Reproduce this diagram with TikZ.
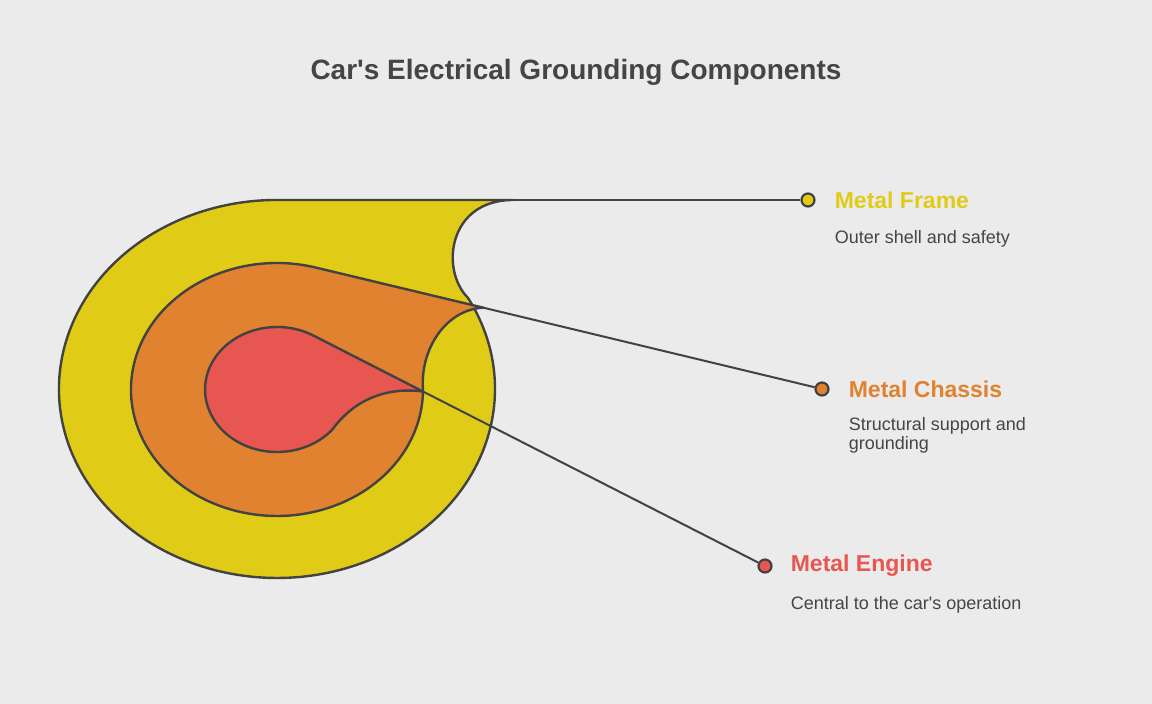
\documentclass[tikz,border=0pt]{standalone}
\usepackage{fontspec}
\setmainfont{Liberation Sans}
\usetikzlibrary{positioning}
\definecolor{bgGray}{HTML}{EBEBEB}
\definecolor{lineGray}{HTML}{424242}
\definecolor{textGray}{HTML}{454545}
\definecolor{frameYellow}{HTML}{E0CC17}
\definecolor{chassisOrange}{HTML}{E08230}
\definecolor{engineRed}{HTML}{E85652}
\tikzset{x = 1pt, y = 1pt,
         layer/.style = {draw = lineGray, line width = 2.4pt, line join = round},
         lead/.style = {draw = lineGray, line width = 2pt},
         pin/.style = {circle, draw = lineGray, line width = 2.2pt,
                       minimum size = 13pt, inner sep = 0pt},
         heading/.style = {font = \bfseries\fontsize{23}{26}\selectfont, inner sep = 0pt},
         blurb/.style = {font = \fontsize{18}{19}\selectfont, text = textGray,
                         align = left, anchor = west, inner sep = 0pt}}

\begin{document}
\begin{tikzpicture}
        \fill[bgGray] (0,0) rectangle (1152,-704);
        \node[font = \bfseries\fontsize{28}{32}\selectfont, text = textGray, anchor = base]
             (title) at (576,-79) {Car\textquotesingle s Electrical Grounding Components};

        % tips of the three tails
        \coordinate (frametip)   at (513,-200);
        \coordinate (chassistip) at (483,-307.6);
        \coordinate (enginetip)  at (423,-391.5);

        % nested layers, outer first
        \path[layer, fill = frameYellow] (277,-200) -- (frametip)
             .. controls (448,-200) and (440,-270) .. (468,-297.9)
             arc[start angle = 28.8, end angle = -270, x radius = 218, y radius = 189] -- cycle;
        \path[layer, fill = chassisOrange] (chassistip) -- (316,-267.6)
             arc[start angle = 74.5, end angle = 360, x radius = 146, y radius = 126.5]
             .. controls (420,-350) and (445,-310) .. (chassistip) -- cycle;
        \path[layer, fill = engineRed] (enginetip) -- (313.5,-335.6)
             arc[start angle = 59.6, end angle = 320, x radius = 72, y radius = 62.5]
             .. controls (350,-405) and (380,-386) .. (enginetip) -- cycle;

        % pins and labels
        \node[pin, fill = frameYellow]   (framedot)   at (808,-200) {};
        \node[pin, fill = chassisOrange] (chassisdot) at (822,-389) {};
        \node[pin, fill = engineRed]     (enginedot)  at (765,-566) {};

        \draw[lead] (framedot)   -- (frametip);
        \draw[lead] (chassisdot) -- (chassistip);
        \draw[lead] (enginedot)  -- (enginetip);

        \node[heading, text = frameYellow]   (frametitle)   [right = 19pt of framedot]   {Metal Frame};
        \node[heading, text = chassisOrange] (chassistitle) [right = 19pt of chassisdot] {Metal Chassis};
        \node[heading, text = engineRed]     (enginetitle)  [right = 18pt of enginedot]  {Metal Engine};

        \node[blurb] (frameblurb)   at ([yshift = -38.5pt]frametitle.west)   {Outer shell and safety};
        \node[blurb] (chassisblurb) at ([yshift = -46pt]chassistitle.west)   {Structural support and\\grounding};
        \node[blurb] (engineblurb)  at ([yshift = -38.5pt]enginetitle.west)  {Central to the car\textquotesingle s operation};
    \end{tikzpicture}
\end{document}
